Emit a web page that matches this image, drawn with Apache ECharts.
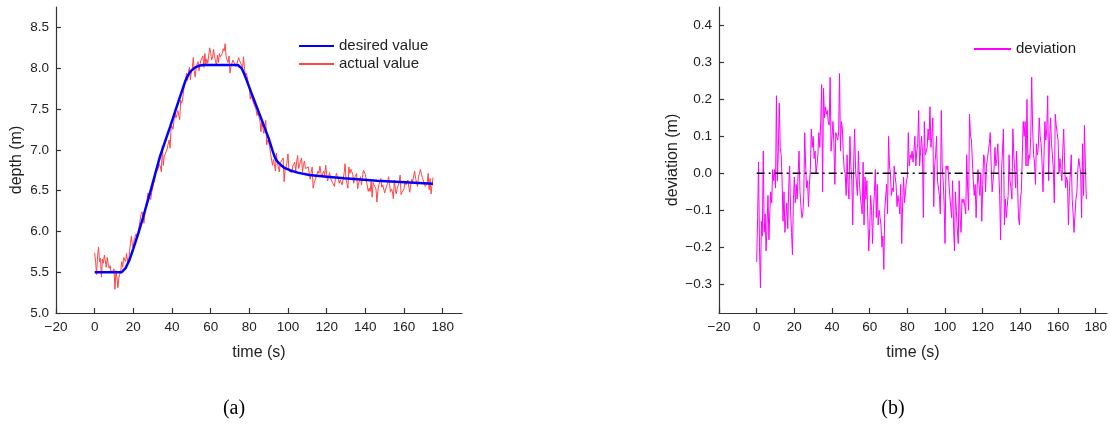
<!DOCTYPE html>
<html>
<head>
<meta charset="utf-8">
<script src="https://cdn.jsdelivr.net/npm/echarts@6/dist/echarts.min.js"></script>
<style>
html,body{margin:0;padding:0;background:#fff;}
#chart{width:1110px;height:427px;}
</style>
</head>
<body>
<div id="chart"></div>
<script>
// ---- data ----
const timeTicks = [-20, 0, 20, 40, 60, 80, 100, 120, 140, 160, 180];
const depthTicks = [5.0, 5.5, 6.0, 6.5, 7.0, 7.5, 8.0, 8.5];
const devTicks = [-0.3, -0.2, -0.1, 0.0, 0.1, 0.2, 0.3, 0.4];

// desired depth (smooth reference trajectory)
const desiredTime  = [0, 14, 15, 16, 17, 18, 19, 20, 22.6, 25, 28.6, 33.8, 39, 43.3, 47, 48, 49, 50, 52, 54, 56, 74, 75, 76, 77, 78, 81, 87, 90, 92, 93, 94, 96, 98, 101, 105, 111, 120, 129, 146, 163, 175];
const desiredDepth = [5.5, 5.5, 5.52, 5.55, 5.6, 5.65, 5.72, 5.79, 5.98, 6.17, 6.47, 6.92, 7.28, 7.59, 7.85, 7.9, 7.94, 7.97, 8.01, 8.03, 8.04, 8.04, 8.03, 8.0, 7.95, 7.89, 7.7, 7.33, 7.14, 6.99, 6.92, 6.87, 6.82, 6.78, 6.75, 6.72, 6.69, 6.67, 6.65, 6.62, 6.6, 6.585];

// actual depth, one sample every 0.5 s starting at t = 0
const actualStep = 0.5;
const actualDepth = [
5.74,5.62,5.47,5.7,5.81,5.63,5.67,5.44,5.66,5.61,
5.71,5.64,5.56,5.68,5.6,5.55,5.58,5.49,5.52,5.49,
5.54,5.29,5.52,5.44,5.31,5.43,5.45,5.52,5.63,5.56,
5.68,5.66,5.63,5.73,5.64,5.61,5.75,5.85,5.94,5.83,
5.8,5.91,5.89,5.97,5.93,5.91,6.06,6.14,6.21,6.24,
6.23,6.1,6.23,6.33,6.36,6.47,6.45,6.45,6.39,6.48,
6.49,6.59,6.62,6.72,6.74,6.75,6.74,6.82,6.79,6.73,
7.05,6.81,6.92,6.93,6.98,7.01,7.07,7.12,7.02,7.26,
7.29,7.25,7.35,7.49,7.39,7.43,7.48,7.49,7.37,7.61,
7.57,7.62,7.73,7.8,7.85,7.94,7.85,7.95,8.01,7.86,
7.95,8.0,8.13,7.97,7.89,8.0,8.05,8.08,7.97,8.05,
8.1,8.1,8.15,8.01,8.18,8.05,8.11,8.06,8.16,8.25,
8.19,8.1,8.14,8.23,8.14,8.09,8.03,8.16,8.07,8.18,
8.14,8.16,8.18,8.24,8.21,8.3,8.14,8.1,8.07,8.15,
7.94,8.02,8.04,8.1,8.08,8.09,8.02,8.05,8.07,8.13,
8.09,8.1,8.11,8.01,8.14,8.0,7.9,7.94,7.88,7.82,
7.77,7.62,7.68,7.62,7.6,7.55,7.55,7.49,7.42,7.47,
7.4,7.35,7.22,7.34,7.27,7.2,7.21,7.36,7.06,7.12,
7.09,7.04,6.95,6.94,6.81,6.88,6.82,6.74,6.96,6.84,
6.79,6.73,6.84,6.85,6.86,6.9,6.61,6.76,6.79,6.85,
6.95,6.74,6.74,6.73,6.72,6.8,6.82,6.85,6.74,6.86,
6.93,6.77,6.81,6.86,6.9,6.73,6.82,6.86,6.77,6.78,
6.77,6.79,6.8,6.64,6.73,6.79,6.53,6.59,6.59,6.59,
6.7,6.74,6.71,6.8,6.72,6.67,6.71,6.74,6.68,6.81,
6.7,6.62,6.63,6.72,6.65,6.63,6.6,6.58,6.55,6.64,
6.71,6.68,6.65,6.59,6.63,6.61,6.57,6.64,6.71,6.83,
6.64,6.59,6.53,6.79,6.71,6.76,6.73,6.7,6.59,6.66,
6.68,6.71,6.52,6.59,6.62,6.67,6.57,6.66,6.75,6.77,
6.7,6.68,6.68,6.49,6.53,6.49,6.61,6.42,6.6,6.57,
6.58,6.52,6.36,6.5,6.57,6.59,6.65,6.54,6.57,6.55,
6.47,6.52,6.54,6.59,6.67,6.58,6.48,6.52,6.49,6.4,
6.63,6.52,6.46,6.53,6.56,6.6,6.69,6.45,6.48,6.5,
6.52,6.61,6.57,6.6,6.63,6.54,6.48,6.58,6.64,6.61,
6.62,6.74,6.65,6.6,6.55,6.67,6.71,6.76,6.7,6.66,
6.64,6.58,6.55,6.57,6.59,6.71,6.51,6.65,6.46,6.57,6.66
];

// deviation, one sample every 0.5 s starting at t = 0
const devStep = 0.5;
const deviation = [
-0.24,-0.12,0.03,-0.2,-0.31,-0.13,-0.17,0.06,-0.16,-0.11,
-0.21,-0.14,-0.06,-0.18,-0.1,-0.05,-0.08,0.01,-0.02,0.01,
-0.04,0.21,-0.02,0.06,0.19,0.07,0.05,-0.02,-0.13,-0.05,
-0.16,-0.12,-0.08,-0.15,-0.04,0.02,-0.1,-0.16,-0.22,-0.07,
-0.01,-0.08,-0.03,-0.07,0.0,0.06,-0.05,-0.09,-0.12,-0.11,
-0.06,0.11,0.02,-0.04,-0.02,-0.09,-0.03,0.01,0.12,0.07,
0.1,0.04,0.06,0.0,0.02,0.05,0.11,0.07,0.14,0.24,
-0.05,0.23,0.15,0.18,0.16,0.17,0.14,0.13,0.26,0.06,
0.06,0.14,0.08,-0.03,0.11,0.1,0.09,0.11,0.27,0.06,
0.14,0.12,0.05,0.01,0.0,-0.06,0.05,-0.03,-0.07,0.1,
0.02,-0.02,-0.14,0.03,0.12,0.01,-0.03,-0.06,0.06,-0.02,
-0.06,-0.06,-0.11,0.03,-0.14,-0.01,-0.07,-0.02,-0.12,-0.21,
-0.15,-0.06,-0.1,-0.19,-0.1,-0.05,0.01,-0.12,-0.03,-0.14,
-0.1,-0.12,-0.14,-0.2,-0.17,-0.26,-0.1,-0.06,-0.03,-0.11,
0.1,0.02,0.0,-0.06,-0.04,-0.05,0.02,-0.01,-0.03,-0.09,
-0.06,-0.08,-0.11,-0.03,-0.19,-0.08,-0.01,-0.08,-0.05,-0.02,
-0.01,0.11,0.02,0.05,0.04,0.06,0.03,0.06,0.1,0.02,
0.06,0.08,0.17,0.02,0.06,0.1,0.06,-0.12,0.14,0.05,
0.05,0.07,0.12,0.09,0.18,0.07,0.1,0.15,-0.09,0.02,
0.05,0.1,-0.02,-0.04,-0.06,-0.11,0.17,0.02,-0.02,-0.08,
-0.19,0.02,0.01,0.02,0.02,-0.06,-0.09,-0.12,-0.02,-0.14,
-0.21,-0.05,-0.1,-0.15,-0.19,-0.02,-0.12,-0.16,-0.07,-0.08,
-0.07,-0.09,-0.11,0.05,-0.04,-0.1,0.16,0.1,0.09,0.09,
-0.02,-0.06,-0.03,-0.12,-0.04,0.01,-0.03,-0.06,0.0,-0.13,
-0.03,0.05,0.04,-0.05,0.02,0.04,0.06,0.08,0.11,0.02,
-0.05,-0.02,0.01,0.07,0.02,0.04,0.08,0.01,-0.06,-0.18,
0.01,0.06,0.12,-0.14,-0.07,-0.12,-0.09,-0.06,0.05,-0.02,
-0.04,-0.07,0.12,0.05,0.01,-0.04,0.06,-0.03,-0.12,-0.14,
-0.07,-0.05,-0.05,0.14,0.1,0.14,0.02,0.2,0.02,0.05,
0.04,0.1,0.26,0.12,0.05,0.03,-0.03,0.08,0.05,0.07,
0.15,0.1,0.08,0.03,-0.05,0.04,0.14,0.09,0.12,0.21,
-0.02,0.09,0.15,0.08,0.05,0.01,-0.08,0.16,0.13,0.11,
0.09,0.0,0.04,0.01,-0.02,0.06,0.12,0.02,-0.04,-0.01,
-0.02,-0.14,-0.05,0.0,0.05,-0.07,-0.11,-0.16,-0.11,-0.07,
-0.05,0.01,0.04,0.02,0.0,-0.12,0.08,-0.06,0.13,0.02,-0.07
];

// zero reference line on deviation plot
const zeroLineTime = [0, 175];
const zeroLineValue = [0, 0];

// ---- build series data ----
const desiredData = desiredTime.map((t, i) => [t, desiredDepth[i]]);
const actualData = actualDepth.map((v, i) => [i * actualStep, v]);
const devData = deviation.map((v, i) => [i * devStep, v]);
const zeroData = zeroLineTime.map((t, i) => [t, zeroLineValue[i]]);

const FONT = '"Liberation Sans", Arial, sans-serif';
const TXT = '#222';
const AX = '#333';
const minus = (v, d) => (v < 0 ? '\u2212' : '') + Math.abs(v).toFixed(d);

function xAxisCfg(gridIndex, max) {
  return {
    type: 'value', gridIndex, min: -20, max,
    name: 'time (s)', nameLocation: 'middle', nameGap: 32,
    nameTextStyle: { fontFamily: FONT, fontSize: 16, color: TXT },
    axisLine: { show: true, onZero: false, lineStyle: { color: AX, width: 1.2 } },
    axisTick: { show: true, inside: true, length: 5, customValues: timeTicks, lineStyle: { color: AX, width: 1.2 } },
    axisLabel: { customValues: timeTicks, margin: 7, fontFamily: FONT, fontSize: 13.5, color: TXT, formatter: v => minus(v, 0) },
    splitLine: { show: false }
  };
}
function yAxisCfg(gridIndex, min, max, ticks, name, gap) {
  return {
    type: 'value', gridIndex, min, max,
    name, nameLocation: 'middle', nameGap: gap,
    nameTextStyle: { fontFamily: FONT, fontSize: 16, color: TXT },
    axisLine: { show: true, onZero: false, lineStyle: { color: AX, width: 1.2 } },
    axisTick: { show: true, inside: true, length: 5, customValues: ticks, lineStyle: { color: AX, width: 1.2 } },
    axisLabel: { customValues: ticks, margin: 7, fontFamily: FONT, fontSize: 13.5, color: TXT, formatter: v => minus(v, 1) },
    splitLine: { show: false }
  };
}

const legendBase = {
  orient: 'vertical', padding: 0, itemHeight: 14, itemGap: 2,
  itemStyle: { opacity: 0 },
  textStyle: { fontFamily: FONT, fontSize: 15, color: TXT, lineHeight: 16 }
};

const chart = echarts.init(document.getElementById('chart'), null, { renderer: 'canvas' });
chart.setOption({
  animation: false,
  backgroundColor: '#fff',
  grid: [
    { left: 56, top: 7, width: 406, height: 306 },
    { left: 719, top: 7, width: 391, height: 306 }
  ],
  xAxis: [xAxisCfg(0, 190), xAxisCfg(1, 186)],
  yAxis: [
    yAxisCfg(0, 5.0, 8.75, depthTicks, 'depth (m)', 31),
    yAxisCfg(1, -0.378, 0.45, devTicks, 'deviation (m)', 38)
  ],
  legend: [
    Object.assign({}, legendBase, { left: 298, top: 38, itemWidth: 35, data: ['desired value', 'actual value'] }),
    Object.assign({}, legendBase, { left: 973, top: 41, itemWidth: 37, data: ['deviation'] })
  ],
  series: [
    {
      name: 'actual value', type: 'line', xAxisIndex: 0, yAxisIndex: 0,
      data: actualData, symbol: 'none', z: 2,
      lineStyle: { color: '#ff4545', width: 1 }, itemStyle: { color: '#ff4545' }
    },
    {
      name: 'desired value', type: 'line', xAxisIndex: 0, yAxisIndex: 0,
      data: desiredData, symbol: 'none', z: 3,
      lineStyle: { color: '#0000ff', width: 2.5 }, itemStyle: { color: '#0000ff' }
    },
    {
      name: 'zero', type: 'line', xAxisIndex: 1, yAxisIndex: 1,
      data: zeroData, symbol: 'none', z: 3, silent: true,
      lineStyle: { color: '#000', width: 1.5, type: [8, 4, 2, 4] }
    },
    {
      name: 'deviation', type: 'line', xAxisIndex: 1, yAxisIndex: 1,
      data: devData, symbol: 'none', z: 2,
      lineStyle: { color: '#ff00ff', width: 1 }, itemStyle: { color: '#ff00ff' }
    }
  ],
  graphic: [
    { type: 'text', x: 234, y: 409, style: { text: '(a)', fontFamily: '"Liberation Serif", "Times New Roman", serif', fontSize: 20, fill: '#000', align: 'center', verticalAlign: 'middle' } },
    { type: 'text', x: 893, y: 409, style: { text: '(b)', fontFamily: '"Liberation Serif", "Times New Roman", serif', fontSize: 20, fill: '#000', align: 'center', verticalAlign: 'middle' } }
  ]
});
</script>
</body>
</html>
